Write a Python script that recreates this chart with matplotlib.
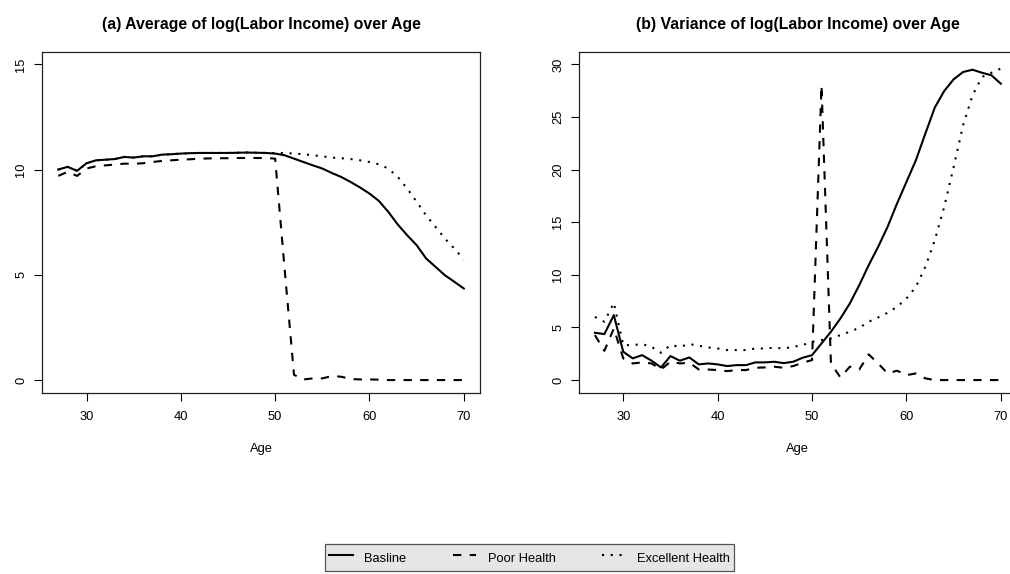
import matplotlib
matplotlib.use("Agg")
import matplotlib.pyplot as plt
from matplotlib.lines import Line2D

plt.rcParams["font.family"] = ["Liberation Sans", "DejaVu Sans"]

AGES = list(range(27, 71))

# (a) average of log labor income by age
MEAN_BASELINE = [
    10.00, 10.13, 9.94, 10.30, 10.44, 10.47, 10.50, 10.60, 10.57, 10.63,
    10.63, 10.71, 10.73, 10.76, 10.78, 10.79, 10.79, 10.79, 10.79, 10.80,
    10.81, 10.80, 10.79, 10.76, 10.68, 10.52, 10.36, 10.20, 10.05, 9.84,
    9.65, 9.41, 9.15, 8.86, 8.51, 7.99, 7.39, 6.88, 6.41, 5.78,
    5.38, 4.98, 4.67, 4.35,
]
MEAN_POOR = [
    9.70, 9.89, 9.70, 10.05, 10.16, 10.20, 10.24, 10.28, 10.28, 10.30,
    10.36, 10.41, 10.44, 10.47, 10.49, 10.52, 10.53, 10.54, 10.54, 10.55,
    10.55, 10.55, 10.55, 10.52, 5.30, 0.25, 0.03, 0.08, 0.08, 0.19,
    0.16, 0.05, 0.03, 0.03, 0.02, 0.00, 0.00, 0.00, 0.00, 0.00,
    0.00, 0.00, 0.00, 0.00,
]
MEAN_EXCELLENT = [
    10.00, 10.13, 9.94, 10.30, 10.44, 10.47, 10.50, 10.60, 10.57, 10.63,
    10.63, 10.71, 10.73, 10.76, 10.78, 10.79, 10.79, 10.79, 10.79, 10.80,
    10.81, 10.80, 10.79, 10.78, 10.79, 10.76, 10.73, 10.68, 10.63, 10.57,
    10.54, 10.50, 10.44, 10.36, 10.25, 10.05, 9.65, 9.10, 8.47, 7.83,
    7.28, 6.72, 6.25, 5.73,
]

# (b) variance of log labor income by age
VAR_BASELINE = [
    4.49, 4.37, 6.17, 2.69, 2.06, 2.37, 1.84, 1.20, 2.28, 1.84,
    2.15, 1.49, 1.58, 1.49, 1.33, 1.42, 1.42, 1.68, 1.68, 1.74,
    1.61, 1.74, 2.12, 2.37, 3.48, 4.59, 5.85, 7.28, 9.02, 10.92,
    12.66, 14.56, 16.77, 18.83, 20.89, 23.42, 25.89, 27.47, 28.58, 29.27,
    29.49, 29.20, 28.96, 28.16,
]
VAR_POOR = [
    4.27, 2.78, 4.90, 2.06, 1.58, 1.68, 1.58, 1.00, 1.74, 1.58,
    1.65, 1.01, 1.00, 0.95, 0.85, 0.95, 0.95, 1.17, 1.20, 1.27,
    1.17, 1.33, 1.65, 1.90, 28.00, 1.58, 0.25, 1.27, 1.00, 2.44,
    1.58, 0.63, 0.89, 0.47, 0.63, 0.16, 0.00, 0.00, 0.00, 0.00,
    0.00, 0.00, 0.00, 0.00,
]
VAR_EXCELLENT = [
    6.00, 5.54, 7.34, 3.32, 3.32, 3.42, 3.16, 2.59, 3.32, 3.16,
    3.42, 3.26, 3.10, 3.00, 2.85, 2.85, 2.85, 3.00, 3.00, 3.07,
    3.00, 3.16, 3.32, 3.64, 3.80, 3.96, 4.27, 4.59, 4.97, 5.54,
    5.95, 6.39, 6.96, 7.75, 8.86, 10.76, 13.29, 16.46, 20.25, 24.21,
    27.06, 28.80, 29.20, 29.60,
]

LABELS = ["Basline", "Poor Health", "Excellent Health"]
STYLES = ["-", (0, (4, 4)), (0, (1, 3.2))]
LW = 1.5
FS = 9.3


def style_axes(ax, ylim, yticks, title):
    ax.set_xlim(25.28, 71.72)
    ax.set_ylim(*ylim)
    ax.set_xticks([30, 40, 50, 60, 70])
    ax.set_yticks(yticks)
    ax.tick_params(direction="out", length=5.5, width=0.8, labelsize=FS, pad=8)
    ax.tick_params(axis="y", pad=5)
    for lab in ax.get_yticklabels():
        lab.set_rotation(90)
        lab.set_va("center")
    for sp in ax.spines.values():
        sp.set_linewidth(0.9)
        sp.set_color("#222222")
    ax.set_xlabel("Age", fontsize=FS, labelpad=14)
    ax.set_title(title, fontsize=11.4, fontweight="bold", pad=16)


def draw_panel(ax, series):
    for values, ls in zip(series, STYLES):
        ax.plot(AGES, values, color="black", linestyle=ls, linewidth=LW)


fig = plt.figure(figsize=(10.1, 5.74), dpi=100)
ax1 = fig.add_axes([42 / 1010, 1 - 392.7 / 574, 438 / 1010, 341 / 574])
ax2 = fig.add_axes([578.7 / 1010, 1 - 392.7 / 574, 438.4 / 1010, 341 / 574])

draw_panel(ax1, [MEAN_BASELINE, MEAN_POOR, MEAN_EXCELLENT])
style_axes(ax1, (-0.6, 15.6), [0, 5, 10, 15],
           "(a) Average of log(Labor Income) over Age")

draw_panel(ax2, [VAR_BASELINE, VAR_POOR, VAR_EXCELLENT])
style_axes(ax2, (-1.2, 31.2), [0, 5, 10, 15, 20, 25, 30],
           "(b) Variance of log(Labor Income) over Age")

handles = [Line2D([], [], color="black", linestyle=ls, linewidth=LW) for ls in STYLES]
leg = fig.legend(handles, LABELS, loc="center", bbox_to_anchor=(529.5 / 1010, 1 - 557.5 / 574),
                 ncol=3, fontsize=FS, frameon=True, fancybox=False, framealpha=1,
                 facecolor="#e6e6e6", edgecolor="#555555", handlelength=1.8,
                 handletextpad=0.9, columnspacing=3.6, borderpad=0.3, handleheight=1.8)
leg.get_frame().set_linewidth(0.9)

fig.savefig("out.png", dpi=100)
